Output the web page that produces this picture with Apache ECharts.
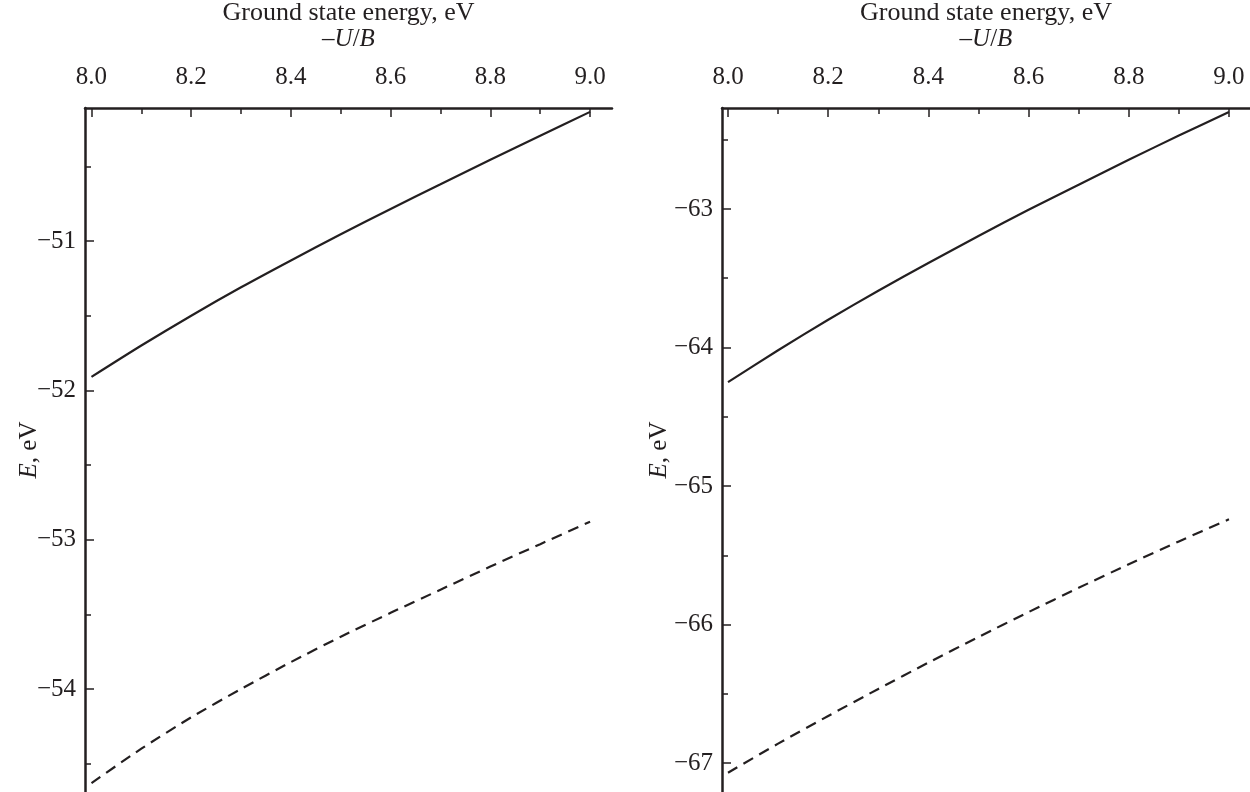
<!DOCTYPE html>
<html>
<head>
<meta charset="utf-8">
<script src="https://cdn.jsdelivr.net/npm/echarts@6/dist/echarts.min.js"></script>
<style>
html,body{margin:0;padding:0;background:#fff;}
#chart{width:1250px;height:792px;}
</style>
</head>
<body>
<div id="chart"></div>
<script>
// ---- data ----
const xValues = [8.0, 8.1, 8.2, 8.3, 8.4, 8.5, 8.6, 8.7, 8.8, 8.9, 9.0];
const leftSolid = [-51.91, -51.70, -51.50, -51.31, -51.13, -50.955, -50.785, -50.62, -50.455, -50.295, -50.135];
const leftDashed = [-54.63, -54.40, -54.19, -54.00, -53.82, -53.65, -53.49, -53.335, -53.18, -53.03, -52.88];
const rightSolid = [-64.25, -64.02, -63.80, -63.59, -63.39, -63.195, -63.005, -62.825, -62.645, -62.47, -62.30];
const rightDashed = [-67.07, -66.86, -66.66, -66.465, -66.275, -66.09, -65.91, -65.735, -65.565, -65.40, -65.24];
const xMajorTicks = [8.0, 8.2, 8.4, 8.6, 8.8, 9.0];
const xMinorTicks = [8.1, 8.3, 8.5, 8.7, 8.9];
const leftYMajor = [-51, -52, -53, -54];
const leftYMinor = [-50.5, -51.5, -52.5, -53.5, -54.5];
const rightYMajor = [-63, -64, -65, -66, -67];
const rightYMinor = [-62.5, -63.5, -64.5, -65.5, -66.5];

// ---- style ----
const INK = '#231f20';
const FONT = 'Liberation Serif';

function pairs(ys) { return xValues.map((x, i) => [x, ys[i]]); }

function xAxes(gridIndex, min, max) {
  return [
    {
      type: 'value', gridIndex, position: 'top', min, max,
      axisLine: { show: true, lineStyle: { color: INK, width: 2.5 } },
      axisTick: { show: true, inside: true, length: 9, customValues: xMajorTicks, lineStyle: { color: INK, width: 1.5 } },
      axisLabel: { show: true, customValues: xMajorTicks, formatter: v => v.toFixed(1), color: INK, fontFamily: FONT, fontSize: 25, margin: 18 },
      splitLine: { show: false },
      name: '{a|Ground state energy, eV}\n{b|\u2013}{c|U}{b|/}{c|B}',
      nameLocation: 'middle', nameGap: 56, nameMoveOverlap: false,
      nameTextStyle: {
        color: INK, fontFamily: FONT,
        rich: {
          a: { fontSize: 26, fontFamily: FONT, color: INK, lineHeight: 26 },
          b: { fontSize: 25, fontFamily: FONT, color: INK, lineHeight: 26 },
          c: { fontSize: 25, fontFamily: FONT, color: INK, fontStyle: 'italic', lineHeight: 26 }
        }
      }
    },
    {
      type: 'value', gridIndex, position: 'top', min, max,
      axisLine: { show: false },
      axisTick: { show: true, inside: true, length: 6, customValues: xMinorTicks, lineStyle: { color: INK, width: 1.5 } },
      axisLabel: { show: false },
      splitLine: { show: false }
    }
  ];
}

function yAxes(gridIndex, min, max, major, minor, nameGap) {
  return [
    {
      type: 'value', gridIndex, position: 'left', min, max,
      axisLine: { show: true, lineStyle: { color: INK, width: 2.5 } },
      axisTick: { show: true, inside: true, length: 9, customValues: major, lineStyle: { color: INK, width: 1.5 } },
      axisLabel: { show: true, customValues: major, formatter: v => '\u2212' + Math.abs(v), color: INK, fontFamily: FONT, fontSize: 25, margin: 9 },
      splitLine: { show: false },
      name: '{i|E}{n|, eV}',
      nameLocation: 'middle', nameRotate: 90, nameGap, nameMoveOverlap: false,
      nameTextStyle: {
        rich: {
          i: { fontSize: 25, fontFamily: FONT, color: INK, fontStyle: 'italic' },
          n: { fontSize: 25, fontFamily: FONT, color: INK }
        }
      }
    },
    {
      type: 'value', gridIndex, position: 'left', offset: 0, min, max,
      axisLine: { show: false },
      axisTick: { show: true, inside: true, length: 6, customValues: minor, lineStyle: { color: INK, width: 1.5 } },
      axisLabel: { show: false },
      splitLine: { show: false }
    }
  ];
}

function lineSeries(xi, yi, ys, dashed) {
  return {
    type: 'line', xAxisIndex: xi, yAxisIndex: yi,
    data: pairs(ys), showSymbol: false, smooth: 0.25, silent: true,
    lineStyle: { color: INK, width: 2.2, type: dashed ? [11, 7] : 'solid' }
  };
}

const chart = echarts.init(document.getElementById('chart'), null, { renderer: 'canvas' });
chart.setOption({
  backgroundColor: '#fff',
  animation: false,
  grid: [
    { left: 85, top: 108, width: 527, height: 684, containLabel: false, outerBoundsMode: 'none' },
    { left: 722, top: 108, width: 528, height: 684, containLabel: false, outerBoundsMode: 'none' }
  ],
  xAxis: [
    ...xAxes(0, 7.987, 9.044),
    ...xAxes(1, 7.988, 9.042)
  ],
  yAxis: [
    ...yAxes(0, -54.69, -50.109, leftYMajor, leftYMinor, 43),
    ...yAxes(1, -67.209, -62.271, rightYMajor, rightYMinor, 50)
  ],
  series: [
    lineSeries(0, 0, leftSolid, false),
    lineSeries(0, 0, leftDashed, true),
    lineSeries(2, 2, rightSolid, false),
    lineSeries(2, 2, rightDashed, true)
  ]
});
</script>
</body>
</html>
